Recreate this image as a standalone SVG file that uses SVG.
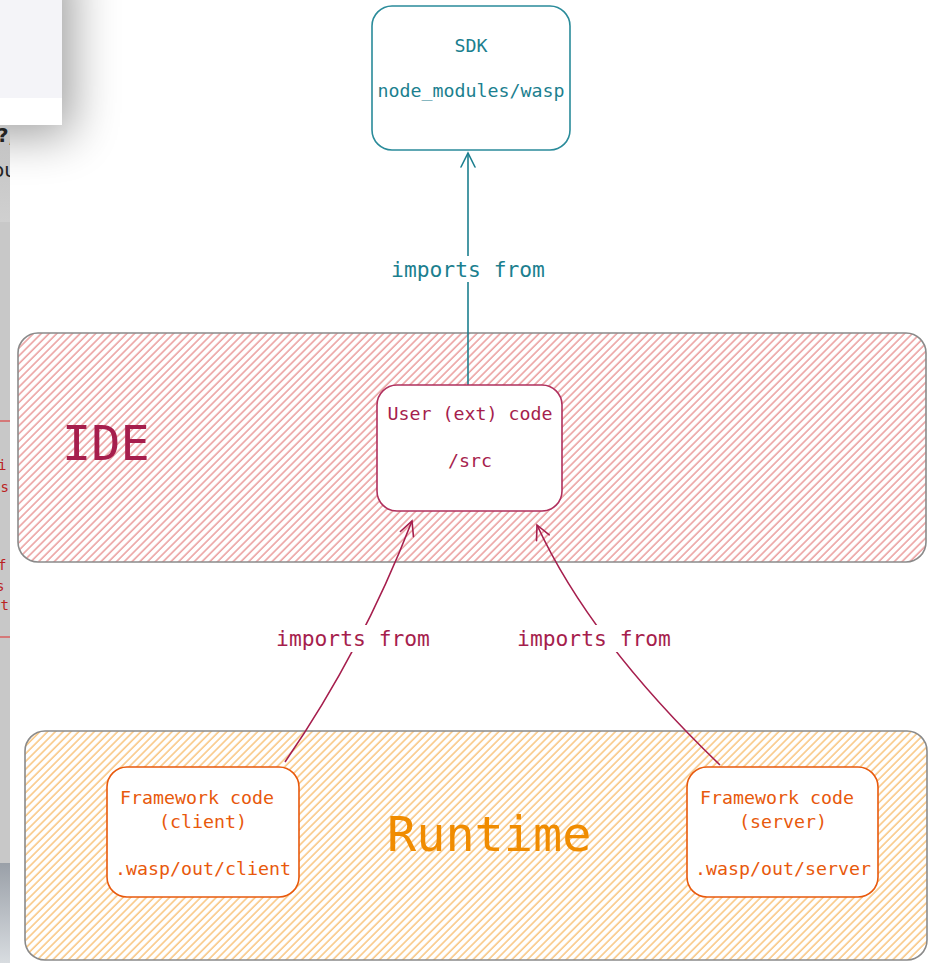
<svg xmlns="http://www.w3.org/2000/svg" width="928" height="963" viewBox="0 0 928 963">
<style>
.mono{font-family:"DejaVu Sans Mono","Liberation Mono",monospace;text-anchor:middle}
.t18{font-size:18.3px}
.lbl{font-size:21.3px}
.big{font-size:48.5px;text-anchor:start}
.teal{fill:#1c7f8f}
.crim{fill:#a61e4d}
.orng{fill:#e8590c}
.box{fill:#fff;stroke-width:1.6}
.cont{stroke:#8a8a8a;stroke-width:1.6}
.edge{fill:none;stroke-width:1.6}
</style>
<defs>
<pattern id="hatchRed" width="5.5" height="5.5" patternUnits="userSpaceOnUse" patternTransform="rotate(45)">
<rect width="5.5" height="5.5" fill="#fff"/>
<line x1="1" y1="0" x2="1" y2="5.5" stroke="#e06a6a" stroke-width="1"/>
</pattern>
<pattern id="hatchOrange" width="5.5" height="5.5" patternUnits="userSpaceOnUse" patternTransform="rotate(45)">
<rect width="5.5" height="5.5" fill="#fff"/>
<line x1="1" y1="0" x2="1" y2="5.5" stroke="#f6a63c" stroke-width="1"/>
</pattern>
<marker id="arrTeal" viewBox="0 0 20 20" refX="18" refY="10" markerWidth="20" markerHeight="20" markerUnits="userSpaceOnUse" orient="auto">
<path d="M4,3 L18,10 L4,17" fill="none" stroke="#1c7f8f" stroke-width="1.6" stroke-linecap="round"/>
</marker>
<marker id="arrCrim" viewBox="0 0 20 20" refX="18" refY="10" markerWidth="20" markerHeight="20" markerUnits="userSpaceOnUse" orient="auto">
<path d="M4,3 L18,10 L4,17" fill="none" stroke="#a61e4d" stroke-width="1.6" stroke-linecap="round"/>
</marker>
<filter id="blur" x="-80%" y="-80%" width="260%" height="260%">
<feGaussianBlur stdDeviation="24"/>
</filter>
<linearGradient id="stripTop" x1="0" y1="0" x2="0" y2="1">
<stop offset="0" stop-color="#c2c2c2"/>
<stop offset="1" stop-color="#d0d0d0"/>
</linearGradient>
<linearGradient id="stripBottom" x1="0" y1="0" x2="0" y2="1">
<stop offset="0" stop-color="#9aa0a8"/>
<stop offset="1" stop-color="#d8dce0"/>
</linearGradient>
<clipPath id="stripClip"><rect x="0" y="0" width="10" height="963"/></clipPath>
</defs>

<g id="background-edge">
<rect x="-40" y="-40" width="112" height="175" fill="#000" opacity="0.38" filter="url(#blur)"/>
<rect x="0" y="0" width="62" height="98" fill="#f4f4f8"/>
<rect x="0" y="98" width="62" height="27" fill="#fff"/>
<rect x="0" y="125" width="10" height="97" fill="url(#stripTop)"/>
<rect x="0" y="222" width="10" height="641" fill="#c8c8c8"/>
<rect x="0" y="863" width="10" height="100" fill="url(#stripBottom)"/>
<line x1="0" y1="421" x2="10" y2="421" stroke="#d44" stroke-width="1.2"/>
<line x1="0" y1="637" x2="10" y2="637" stroke="#d44" stroke-width="1.2"/>
<g clip-path="url(#stripClip)" font-family="DejaVu Sans, sans-serif">
<text x="-3" y="142" font-size="20" fill="#222" font-weight="bold">?,</text>
<text x="-8" y="177" font-size="20" fill="#222">ou</text>
</g>
<g clip-path="url(#stripClip)" font-family="DejaVu Sans Mono, monospace">
<text x="-2" y="470" font-size="14" fill="#b22">i</text>
<text x="-8" y="492" font-size="14" fill="#b22">ts</text>
<text x="-2" y="570" font-size="14" fill="#b22">f</text>
<text x="-4" y="591" font-size="14" fill="#b22">s</text>
<text x="-8" y="610" font-size="14" fill="#b22">rt</text>
</g>
</g>

<g id="ide">
<rect x="18" y="333" width="908" height="229" rx="20" fill="url(#hatchRed)" class="cont"/>
<text x="62" y="460" class="mono big crim">IDE</text>
</g>

<g id="runtime">
<rect x="25" y="731" width="902" height="229" rx="20" fill="url(#hatchOrange)" class="cont"/>
<text x="387" y="851" class="mono big" fill="#f08c00">Runtime</text>
</g>

<g id="connectors">
<line x1="468" y1="385" x2="468" y2="153" class="edge" stroke="#1c7f8f" marker-end="url(#arrTeal)"/>
<rect x="385" y="256" width="166" height="26" fill="#fff"/>
<text x="468" y="277" class="mono lbl teal">imports from</text>

<path d="M285,762 Q362,650 412,521" class="edge" stroke="#a61e4d" marker-end="url(#arrCrim)"/>
<rect x="270" y="625" width="166" height="27" fill="#fff"/>
<text x="353" y="646" class="mono lbl crim">imports from</text>

<path d="M720,765 Q590,640 537,525" class="edge" stroke="#a61e4d" marker-end="url(#arrCrim)"/>
<rect x="511" y="625" width="166" height="27" fill="#fff"/>
<text x="594" y="646" class="mono lbl crim">imports from</text>
</g>

<g id="sdk">
<rect x="372" y="6" width="198" height="144" rx="20" class="box" stroke="#2a8b9a"/>
<text x="471" y="52" class="mono t18 teal">SDK</text>
<text x="471" y="97" class="mono t18 teal">node_modules/wasp</text>
</g>

<g id="user-code">
<rect x="377" y="385" width="185" height="126" rx="20" class="box" stroke="#b0305e"/>
<text x="470" y="420" class="mono t18 crim">User (ext) code</text>
<text x="470" y="467" class="mono t18 crim">/src</text>
</g>

<g id="framework-client">
<rect x="107" y="767" width="192" height="130" rx="20" class="box" stroke="#e8590c"/>
<text x="197" y="804" class="mono t18 orng">Framework code</text>
<text x="203" y="828" class="mono t18 orng">(client)</text>
<text x="203" y="875" class="mono t18 orng">.wasp/out/client</text>
</g>

<g id="framework-server">
<rect x="687" y="767" width="191" height="130" rx="20" class="box" stroke="#e8590c"/>
<text x="777" y="804" class="mono t18 orng">Framework code</text>
<text x="783" y="828" class="mono t18 orng">(server)</text>
<text x="783" y="875" class="mono t18 orng">.wasp/out/server</text>
</g>
</svg>
